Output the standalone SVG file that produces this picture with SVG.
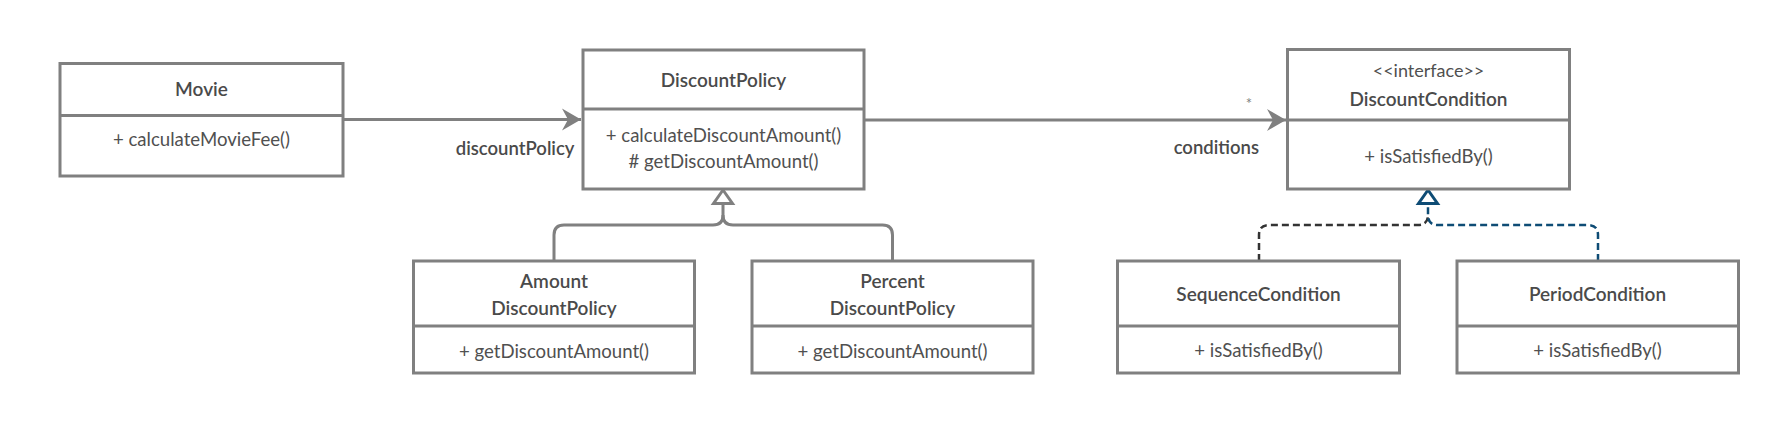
<svg xmlns="http://www.w3.org/2000/svg" width="1788" height="442" viewBox="0 0 1788 442">
<defs>
<style>
.box{fill:#fff;stroke:#808080;stroke-width:3}
.div{stroke:#808080;stroke-width:3}
text{font-family:Lato,"Noto Sans",sans-serif;fill:#4a4a4a;text-anchor:middle}
.t{font-size:19px;font-weight:600}
.m{font-size:18.6px;fill:#505050}
.lbl{font-size:18.5px;font-weight:600;text-anchor:end}
.st{font-size:18px;fill:#505050}
.conn{fill:none;stroke:#808080;stroke-width:3}
.dash{fill:none;stroke-width:2.5;stroke-dasharray:7,4}
</style>
<marker id="arr" markerUnits="userSpaceOnUse" markerWidth="24" markerHeight="24" viewBox="-22 -12 24 24" refX="0" refY="0" orient="auto">
<path d="M0,0 L-19,-11 L-13,0 L-19,11 Z" fill="#808080"/>
</marker>
</defs>
<rect width="1788" height="442" fill="#fff"/>
<g id="connectors">
<line class="conn" x1="343" y1="119.5" x2="581" y2="119.5" marker-end="url(#arr)"/>
<line class="conn" x1="864" y1="120" x2="1286" y2="120" marker-end="url(#arr)"/>
<path class="conn" d="M554 261 V235 Q554 225 564 225 H713 Q723 225 723 215 V203"/>
<path class="conn" d="M892.5 261 V235 Q892.5 225 882.5 225 H733 Q723 225 723 215"/>
<path d="M723 190 L713.5 203.5 H732.5 Z" fill="#fff" stroke="#808080" stroke-width="3"/>
<path class="dash" stroke="#333" d="M1259 261 V235 Q1259 225 1269 225 H1418 Q1428 225 1428 215"/>
<path class="dash" stroke="#0e4c75" d="M1598 261 V235 Q1598 225 1588 225 H1438 Q1428 225 1428 215 V203"/>
<path d="M1428 190 L1418.5 203.5 H1437.5 Z" fill="#fff" stroke="#0e4c75" stroke-width="3"/>
<text class="lbl" x="574.5" y="155">discountPolicy</text>
<text class="lbl" x="1259" y="154">conditions</text>
<text x="1249" y="109" style="font-size:15px;fill:#808080">*</text>
</g>
<g id="Movie">
<rect class="box" x="60" y="63.5" width="283" height="112.5"/>
<line class="div" x1="60" y1="115.5" x2="343" y2="115.5"/>
<text class="t" x="201.5" y="96">Movie</text>
<text class="m" x="201.5" y="146">+ calculateMovieFee()</text>
</g>
<g id="DiscountPolicy">
<rect class="box" x="583" y="50" width="281" height="139"/>
<line class="div" x1="583" y1="109" x2="864" y2="109"/>
<text class="t" x="723.5" y="87">DiscountPolicy</text>
<text class="m" x="723.5" y="141.5">+ calculateDiscountAmount()</text>
<text class="m" x="723.5" y="168"># getDiscountAmount()</text>
</g>
<g id="DiscountCondition">
<rect class="box" x="1287.5" y="49.5" width="282" height="139.5"/>
<line class="div" x1="1287.5" y1="120" x2="1569.5" y2="120"/>
<text class="st" x="1428.5" y="77">&lt;&lt;interface&gt;&gt;</text>
<text class="t" x="1428.5" y="106">DiscountCondition</text>
<text class="m" x="1428.5" y="162.5">+ isSatisfiedBy()</text>
</g>
<g id="AmountDiscountPolicy">
<rect class="box" x="413.5" y="261" width="281" height="112"/>
<line class="div" x1="413.5" y1="326" x2="694.5" y2="326"/>
<text class="t" x="554" y="288">Amount</text>
<text class="t" x="554" y="315">DiscountPolicy</text>
<text class="m" x="554" y="357.5">+ getDiscountAmount()</text>
</g>
<g id="PercentDiscountPolicy">
<rect class="box" x="752" y="261" width="281" height="112"/>
<line class="div" x1="752" y1="326" x2="1033" y2="326"/>
<text class="t" x="892.5" y="288">Percent</text>
<text class="t" x="892.5" y="315">DiscountPolicy</text>
<text class="m" x="892.5" y="357.5">+ getDiscountAmount()</text>
</g>
<g id="SequenceCondition">
<rect class="box" x="1117.5" y="261" width="282" height="112"/>
<line class="div" x1="1117.5" y1="326" x2="1399.5" y2="326"/>
<text class="t" x="1258.5" y="300.5">SequenceCondition</text>
<text class="m" x="1258.5" y="356.5">+ isSatisfiedBy()</text>
</g>
<g id="PeriodCondition">
<rect class="box" x="1457" y="261" width="281.5" height="112"/>
<line class="div" x1="1457" y1="326" x2="1738.5" y2="326"/>
<text class="t" x="1597.5" y="300.5">PeriodCondition</text>
<text class="m" x="1597.5" y="356.5">+ isSatisfiedBy()</text>
</g>
</svg>
